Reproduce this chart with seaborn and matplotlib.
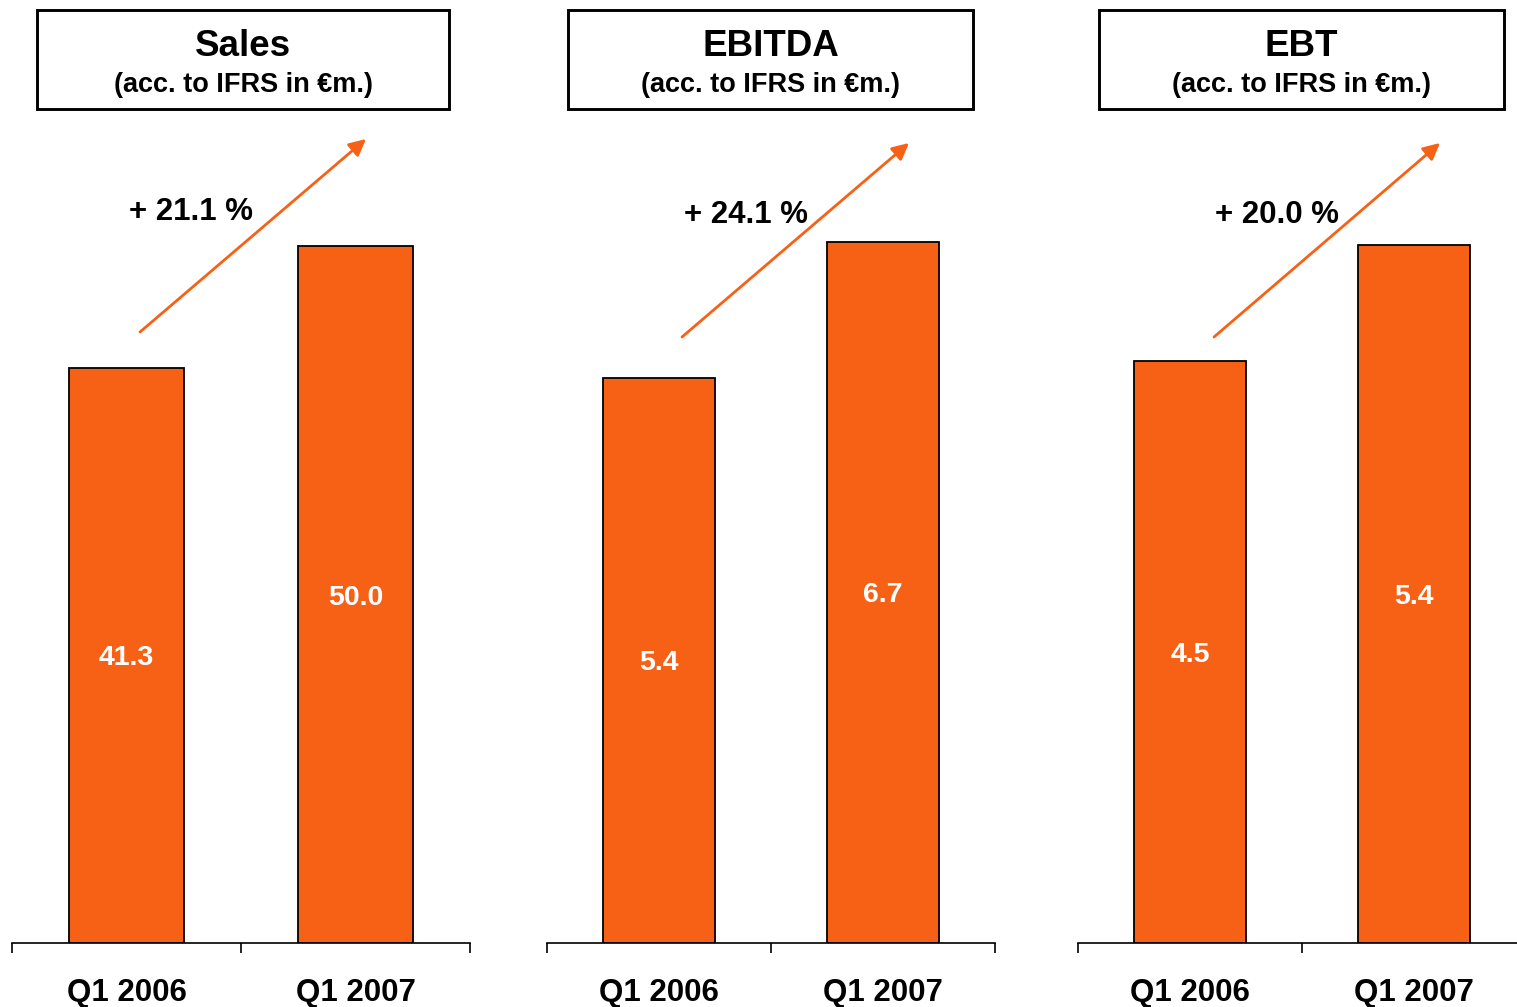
import matplotlib
matplotlib.use("Agg")
import matplotlib.pyplot as plt
import seaborn as sns
import pandas as pd
from matplotlib.patches import Rectangle, FancyArrowPatch
from matplotlib.ticker import FixedLocator

sns.set_theme(style="white")
plt.rcParams['font.family'] = ['Liberation Sans', 'DejaVu Sans']
plt.rcParams['font.weight'] = 'bold'

# ---- data ----
categories = ["Q1 2006", "Q1 2007"]
titles = ["Sales", "EBITDA", "EBT"]
subtitle = "(acc. to IFRS in €m.)"
sales = [41.3, 50.0]
ebitda = [5.4, 6.7]
ebt = [4.5, 5.4]
growth_labels = ["+ 21.1 %", "+ 24.1 %", "+ 20.0 %"]
value_labels = [["41.3", "50.0"], ["5.4", "6.7"], ["4.5", "5.4"]]
series = [sales, ebitda, ebt]
ylims = [58.36, 7.77, 6.29]

BAR = "#F76116"
W, H = 1517, 1007
fig = plt.figure(figsize=(W / 100, H / 100), dpi=100)

def fx(px):
    return px / W

def fy(py):
    return 1 - py / H

# axes pixel extents: (left, right)
ax_x = [(12, 470), (547, 995), (1078, 1526)]
top_px, base_px = 130, 943
box_x = [(37, 449), (568, 973), (1099, 1504)]
arrows = [((140, 332), (366, 139)), ((682, 337), (909, 143)), ((1214, 337), (1440, 143))]
pct_pos = [(191, 212), (746, 215), (1277, 215)]

for i in range(3):
    l, r = ax_x[i]
    ax = fig.add_axes([fx(l), fy(base_px), fx(r - l), (base_px - top_px) / H])
    df = pd.DataFrame({"period": categories, "value": series[i]})
    sns.barplot(data=df, x="period", y="value", ax=ax, color=BAR, saturation=1,
                width=0.5, edgecolor="black", linewidth=1.3)
    for p in ax.patches:
        p.set_facecolor(BAR)
    ax.set_xlim(-0.5, 1.5)
    ax.set_ylim(0, ylims[i])
    ax.set_xlabel("")
    ax.set_ylabel("")
    ax.set_yticks([])
    for s in ["top", "left", "right"]:
        ax.spines[s].set_visible(False)
    ax.spines["bottom"].set_color("black")
    ax.spines["bottom"].set_linewidth(1.2)
    ax.xaxis.set_minor_locator(FixedLocator([-0.5, 0.5, 1.5]))
    ax.tick_params(axis="x", which="major", length=0, pad=25.5, labelsize=22.5,
                   labelcolor="black")
    ax.tick_params(axis="x", which="minor", length=7.2, width=1.2, color="black",
                   direction="out", bottom=True)
    for lbl in ax.get_xticklabels():
        lbl.set_fontweight("bold")
    for j, v in enumerate(series[i]):
        ax.text(j, v / 2, value_labels[i][j], ha="center", va="center_baseline",
                color="white", fontsize=20.5, fontweight="bold")

    # title box
    bl, br = box_x[i]
    fig.patches.append(Rectangle((fx(bl), fy(109)), fx(br - bl), (109 - 10) / H,
                                 transform=fig.transFigure, fill=False,
                                 edgecolor="black", linewidth=2.1))
    cx = fx((bl + br) / 2)
    fig.text(cx, fy(46), titles[i], ha="center", va="center",
             fontsize=26.5, fontweight="bold", color="black")
    fig.text(cx, fy(85), subtitle, ha="center", va="center",
             fontsize=19.5, fontweight="bold", color="black")

    # growth arrow
    (x0, y0), (x1, y1) = arrows[i]
    fig.patches.append(FancyArrowPatch((fx(x0), fy(y0)), (fx(x1), fy(y1)),
                                       transform=fig.transFigure,
                                       arrowstyle="-|>,head_length=10,head_width=5",
                                       color=BAR, linewidth=2.0,
                                       shrinkA=0, shrinkB=0))
    px, py = pct_pos[i]
    fig.text(fx(px), fy(py), growth_labels[i], ha="center", va="center",
             fontsize=22.5, fontweight="bold", color="black")

fig.savefig("out.png", dpi=100, facecolor="white")
